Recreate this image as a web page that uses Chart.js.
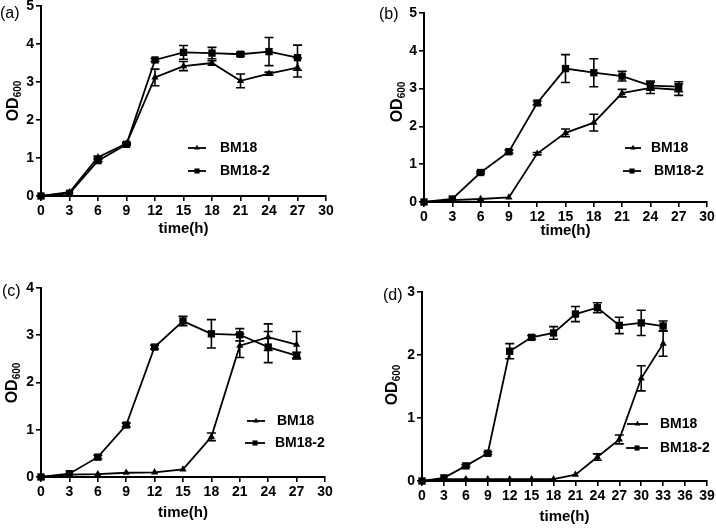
<!DOCTYPE html>
<html>
<head>
<meta charset="utf-8">
<script src="https://cdn.jsdelivr.net/npm/chart.js@4.4.0/dist/chart.umd.min.js"></script>
<style>
  body { margin: 0; background: #fff; width: 716px; height: 528px; position: relative; overflow: hidden; }
  .panel { position: absolute; }
</style>
</head>
<body>
<div class="panel" style="left:0;top:0;width:358px;height:250px"><canvas id="ca"></canvas></div>
<div class="panel" style="left:358px;top:0;width:358px;height:250px"><canvas id="cb"></canvas></div>
<div class="panel" style="left:0;top:250px;width:358px;height:278px"><canvas id="cc"></canvas></div>
<div class="panel" style="left:358px;top:250px;width:358px;height:278px"><canvas id="cd"></canvas></div>
<script>
'use strict';

// ── Data ─────────────────────────────────────────────────────────────────────
const hours    = [0, 3, 6, 9, 12, 15, 18, 21, 24, 27];
const hoursD   = [0, 3, 6, 9, 12, 15, 18, 21, 24, 27, 30, 33];
const seriesNames = ['BM18', 'BM18-2'];

const aBM18      = [0, 0.10, 1.02, 1.38, 3.12, 3.42, 3.50, 3.03, 3.22, 3.38];
const aBM18Err   = [0, 0, 0.03, 0.03, 0.22, 0.12, 0.06, 0.18, 0.04, 0.25];
const aBM18_2    = [0, 0.07, 0.93, 1.36, 3.58, 3.78, 3.76, 3.73, 3.80, 3.64];
const aBM18_2Err = [0, 0, 0.03, 0.03, 0.04, 0.18, 0.15, 0.05, 0.37, 0.33];

const bBM18      = [0, 0.05, 0.08, 0.12, 1.28, 1.83, 2.10, 2.88, 3.02, 2.97];
const bBM18Err   = [0, 0, 0, 0, 0.03, 0.10, 0.22, 0.10, 0.15, 0.15];
const bBM18_2    = [0, 0.08, 0.78, 1.33, 2.62, 3.53, 3.42, 3.33, 3.08, 3.05];
const bBM18_2Err = [0, 0, 0.03, 0.04, 0.05, 0.37, 0.37, 0.13, 0.12, 0.13];

const cBM18      = [0, 0.05, 0.06, 0.09, 0.10, 0.16, 0.85, 2.78, 2.96, 2.80];
const cBM18Err   = [0, 0, 0, 0, 0, 0, 0.08, 0.25, 0.28, 0.28];
const cBM18_2    = [0, 0.07, 0.42, 1.10, 2.75, 3.30, 3.03, 3.01, 2.75, 2.57];
const cBM18_2Err = [0, 0, 0.04, 0.04, 0.04, 0.10, 0.30, 0.13, 0.33, 0.07];

const dBM18      = [0, 0.03, 0.03, 0.03, 0.03, 0.03, 0.03, 0.10, 0.38, 0.66, 1.63, 2.18];
const dBM18Err   = [0, 0, 0, 0, 0, 0, 0, 0, 0.05, 0.07, 0.20, 0.20];
const dBM18_2    = [0, 0.05, 0.24, 0.44, 2.06, 2.28, 2.35, 2.65, 2.75, 2.47, 2.51, 2.46];
const dBM18_2Err = [0, 0, 0.02, 0.02, 0.12, 0.03, 0.10, 0.12, 0.08, 0.13, 0.20, 0.08];

// ── Plugins ──────────────────────────────────────────────────────────────────
const FONT = '"Liberation Sans", Arial, sans-serif';

const errorBars = {
  id: 'errorBars',
  afterDatasetsDraw(chart) {
    const { ctx, scales: { x, y } } = chart;
    ctx.save();
    ctx.strokeStyle = '#000';
    ctx.lineWidth = 1.6;
    chart.data.datasets.forEach(ds => {
      if (!ds.err) return;
      ds.data.forEach((p, j) => {
        const e = ds.err[j];
        if (!e) return;
        const px  = x.getPixelForValue(p.x);
        const top = y.getPixelForValue(p.y + e);
        const bot = y.getPixelForValue(p.y - e);
        ctx.beginPath();
        ctx.moveTo(px, top);      ctx.lineTo(px, bot);
        ctx.moveTo(px - 4.5, top); ctx.lineTo(px + 4.5, top);
        ctx.moveTo(px - 4.5, bot); ctx.lineTo(px + 4.5, bot);
        ctx.stroke();
      });
    });
    ctx.restore();
  }
};

function marker(ctx, style, x, y, s) {
  ctx.beginPath();
  if (style === 'triangle') {
    ctx.moveTo(x, y - s);
    ctx.lineTo(x + s * 0.87, y + s / 2);
    ctx.lineTo(x - s * 0.87, y + s / 2);
  } else {
    ctx.rect(x - s * 0.8, y - s * 0.8, s * 1.6, s * 1.6);
  }
  ctx.closePath();
  ctx.fill();
}

const decor = {
  id: 'decor',
  afterDraw(chart, args, o) {
    const { ctx, chartArea: a } = chart;
    ctx.save();
    ctx.fillStyle = '#000';
    ctx.strokeStyle = '#000';

    // panel label
    ctx.font = `16px ${FONT}`;
    ctx.textBaseline = 'middle';
    ctx.textAlign = 'left';
    ctx.fillText(o.label, o.labelX, o.labelY);

    // x title
    ctx.font = `bold 15px ${FONT}`;
    ctx.textAlign = 'center';
    ctx.fillText('time(h)', (a.left + a.right) / 2, o.titleY);

    // y title with subscript
    ctx.save();
    ctx.translate(o.odX, o.odY);
    ctx.rotate(-Math.PI / 2);
    ctx.font = `bold 16px ${FONT}`;
    const w1 = ctx.measureText('OD').width;
    ctx.font = `bold 10px ${FONT}`;
    const w2 = ctx.measureText('600').width;
    const x0 = -(w1 + w2) / 2;
    ctx.textAlign = 'left';
    ctx.textBaseline = 'alphabetic';
    ctx.font = `bold 16px ${FONT}`;
    ctx.fillText('OD', x0, 6);
    ctx.font = `bold 10px ${FONT}`;
    ctx.fillText('600', x0 + w1, 9);
    ctx.restore();

    // legend
    ctx.font = `bold 14px ${FONT}`;
    ctx.textAlign = 'left';
    ctx.textBaseline = 'middle';
    ctx.lineWidth = 1.8;
    o.legend.forEach((l, i) => {
      ctx.beginPath();
      ctx.moveTo(l[0], l[3]);
      ctx.lineTo(l[1], l[3]);
      ctx.stroke();
      marker(ctx, i === 0 ? 'triangle' : 'rect', (l[0] + l[1]) / 2, l[3], 3.2);
      ctx.fillText(seriesNames[i], l[2], l[3]);
    });
    ctx.restore();
  }
};

// ── Chart builder ────────────────────────────────────────────────────────────
function pts(xs, ys) { return xs.map((x, i) => ({ x, y: ys[i] })); }

function series(xs, ys, err, style) {
  return {
    data: pts(xs, ys), err,
    borderColor: '#000', backgroundColor: '#000', borderWidth: 1.8,
    pointStyle: style, pointRadius: style === 'rect' ? 5.2 : 4.2,
    pointBorderWidth: 0, tension: 0, clip: false,
  };
}

function axisBase(extra) {
  return {
    type: 'linear',
    ticks: { color: '#000', font: { family: FONT, size: 14, weight: 'bold' }, padding: 2, autoSkip: false, maxRotation: 0 },
    grid: { drawOnChartArea: false, color: '#000', tickLength: 5, lineWidth: 1.6 },
    border: { color: '#000', width: 2 },
    ...extra,
  };
}

function makePanel(id, box, xs, xMax, yMax, sets, deco) {
  const [W, H, left, top, right, bottom] = box;
  return new Chart(document.getElementById(id), {
    type: 'line',
    data: { datasets: sets },
    options: {
      responsive: true, maintainAspectRatio: false, animation: false,
      layout: { padding: { left: 0, top, right: W - right, bottom: 0 } },
      plugins: { legend: { display: false }, tooltip: { enabled: false }, decor: deco },
      scales: {
        x: axisBase({
          min: 0, max: xMax,
          ticks: { ...axisBase().ticks, stepSize: 3 },
          afterFit: s => { s.height = H - bottom; s.paddingLeft = 0; s.paddingRight = 0; },
        }),
        y: axisBase({
          min: 0, max: yMax,
          ticks: { ...axisBase().ticks, stepSize: 1 },
          afterFit: s => { s.width = left; s.paddingTop = 0; s.paddingBottom = 0; },
        }),
      },
    },
    plugins: [errorBars, decor],
  });
}

makePanel('ca', [358, 250, 41, 6, 326, 196], hours, 30, 5,
  [series(hours, aBM18, aBM18Err, 'triangle'), series(hours, aBM18_2, aBM18_2Err, 'rect')],
  { label: '(a)', labelX: 0, labelY: 14, titleY: 229, odX: 12, odY: 101,
    legend: [[188, 206, 220, 148], [188, 206, 220, 171]] });

makePanel('cb', [358, 250, 66, 13, 349, 202], hours, 30, 5,
  [series(hours, bBM18, bBM18Err, 'triangle'), series(hours, bBM18_2, bBM18_2Err, 'rect')],
  { label: '(b)', labelX: 21, labelY: 15, titleY: 231, odX: 38, odY: 102,
    legend: [[267, 283, 293, 148], [265, 283, 296, 171]] });

makePanel('cc', [358, 278, 41, 38, 325, 227], hours, 30, 4,
  [series(hours, cBM18, cBM18Err, 'triangle'), series(hours, cBM18_2, cBM18_2Err, 'rect')],
  { label: '(c)', labelX: 2, labelY: 42, titleY: 263, odX: 11, odY: 133,
    legend: [[247, 265, 277, 171], [245, 265, 275, 193]] });

makePanel('cd', [358, 278, 64, 42, 349, 231], hoursD, 39, 3,
  [series(hoursD, dBM18, dBM18Err, 'triangle'), series(hoursD, dBM18_2, dBM18_2Err, 'rect')],
  { label: '(d)', labelX: 25, labelY: 46, titleY: 267, odX: 33, odY: 135,
    legend: [[269, 290, 302, 174], [268, 290, 302, 198]] });
</script>
</body>
</html>
